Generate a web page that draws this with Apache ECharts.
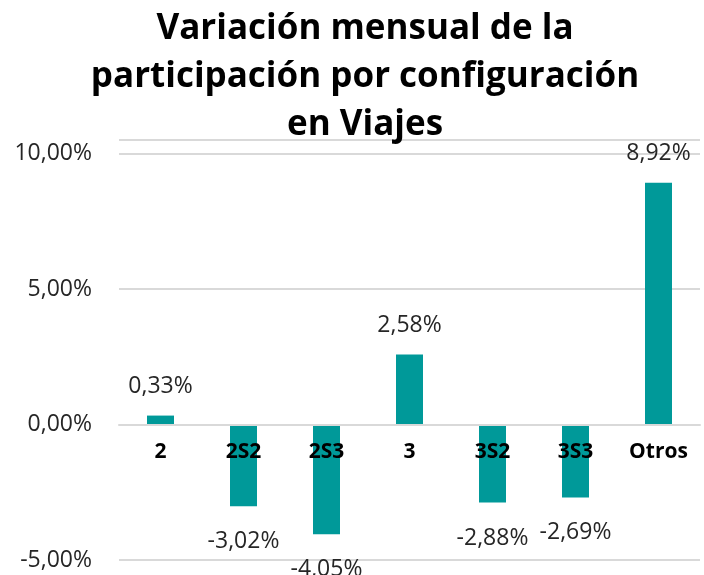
<!DOCTYPE html>
<html>
<head>
<meta charset="utf-8">
<script src="https://cdn.jsdelivr.net/npm/echarts@6/dist/echarts.min.js"></script>
<style>
  html, body { margin: 0; padding: 0; background: #fff; }
  #main { width: 704px; height: 575px; }
</style>
</head>
<body>
<div id="main"></div>
<script>
// configuraciones y variación mensual (%)
var categories = ['2', '2S2', '2S3', '3', '3S2', '3S3', 'Otros'];
var variacion = [0.33, -3.02, -4.05, 2.58, -2.88, -2.69, 8.92];
var yTicks = [-5, 0, 5, 10];
var yMin = -5, yMax = 10.5;

var chart = echarts.init(document.getElementById('main'));

function pct(v) {
    return v.toFixed(2).replace('.', ',') + '%';
}

var barData = variacion.map(function (v) {
    return {
        value: v,
        label: {
            position: v >= 0 ? 'top' : 'bottom',
            distance: v >= 0 ? 18 : 24
        }
    };
});

var gridTop = 140, gridBottom = 15;
var plotH = 575 - gridTop - gridBottom;
// mover el eje de categorías a la línea del cero
var zeroOffset = -plotH * (0 - yMin) / (yMax - yMin);

var option = {
    backgroundColor: '#ffffff',
    title: {
        text: 'Variación mensual de la\nparticipación por configuración\nen Viajes',
        left: 360,
        top: 0,
        textAlign: 'center',
        textStyle: {
            fontFamily: 'Open Sans',
            fontWeight: 'bold',
            fontSize: 35,
            lineHeight: 48,
            color: '#000000'
        }
    },
    grid: {
        left: 119,
        right: 4,
        top: gridTop,
        bottom: gridBottom,
        outerBoundsMode: 'none'
    },
    xAxis: {
        type: 'category',
        data: categories,
        position: 'bottom',
        offset: zeroOffset,
        axisLine: { onZero: false, lineStyle: { color: '#d9d9d9', width: 2 } },
        axisTick: { show: false },
        axisLabel: {
            fontFamily: 'Open Sans',
            fontWeight: 'bold',
            fontSize: 21,
            color: '#000000',
            margin: 17
        },
        z: 10
    },
    yAxis: {
        type: 'value',
        min: yMin,
        max: yMax,
        interval: 5,
        axisLine: { show: false },
        axisTick: { show: false },
        splitLine: { lineStyle: { color: '#d9d9d9', width: 2 } },
        axisLabel: {
            formatter: function (v) {
                return yTicks.indexOf(v) >= 0 ? pct(v) : '';
            },
            fontFamily: 'Open Sans',
            fontSize: 23,
            color: '#262626',
            margin: 27
        }
    },
    series: [{
        type: 'bar',
        data: barData,
        barWidth: 27,
        itemStyle: { color: '#009999' },
        label: {
            show: true,
            formatter: function (p) { return pct(p.value); },
            fontFamily: 'Open Sans',
            fontSize: 23,
            color: '#262626'
        },
        z: 2
    }]
};

chart.setOption(option);
</script>
</body>
</html>
